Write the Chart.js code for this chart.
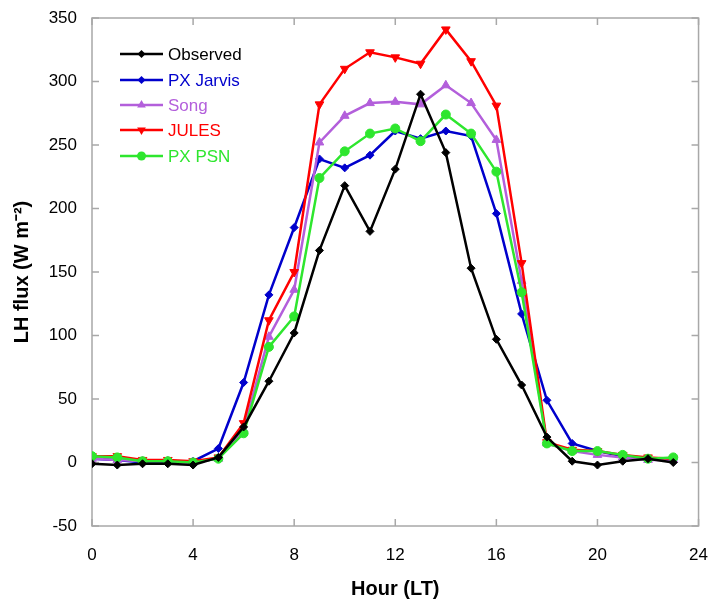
<!DOCTYPE html>
<html>
<head>
<meta charset="utf-8">
<script src="https://cdn.jsdelivr.net/npm/chart.js@4/dist/chart.umd.min.js"></script>
<style>
  body { margin: 0; background: #fff; }
</style>
</head>
<body>
<canvas id="lhChart" width="719" height="605"></canvas>
<script>
// x categories (hour of day)
const hours = [0, 1, 2, 3, 4, 5, 6, 7, 8, 9, 10, 11, 12, 13, 14, 15, 16, 17, 18, 19, 20, 21, 22, 23];

// series values (W m-2)
const observed = [-1, -2, -1, -1, -2, 4, 28, 64, 102, 167, 218, 182, 231, 290, 244, 153, 97, 61, 20, 1, -2, 1, 3, 0];
const pxJarvis = [3, 2, 0, 0, 1, 11, 63, 132, 185, 239, 232, 242, 261, 255, 261, 257, 196, 117, 49, 15, 9, 5, 3, 2];
const song = [3, 2, 1, 1, 0, 3, 26, 99, 136, 252, 273, 283, 284, 282, 297, 283, 254, 143, 15, 9, 6, 4, 2, 2];
const jules = [5, 5, 2, 2, 1, 4, 31, 112, 150, 282, 310, 323, 319, 314, 341, 316, 281, 157, 16, 10, 9, 6, 4, 3];
const pxPsn = [5, 4, 1, 1, 0, 3, 23, 91, 115, 224, 245, 259, 263, 253, 274, 259, 229, 134, 15, 9, 9, 6, 3, 4];

// tick labels
const xTicks = [0, 4, 8, 12, 16, 20, 24];
const yTicks = [-50, 0, 50, 100, 150, 200, 250, 300, 350];

const seriesNames = ["Observed", "PX Jarvis", "Song", "JULES", "PX PSN"];
const seriesColors = ["#000000", "#0000CC", "#B35FDB", "#FF0000", "#2EE62E"];
const seriesData = [observed, pxJarvis, song, jules, pxPsn];
const markerStyles = ["rectRot", "rectRot", "triangle", "triangle", "circle"];
const markerRot = [0, 0, 0, 180, 0];
const markerSize = [4, 4, 5, 5, 4.5];

const frameColor = "#A8A8A8";
const fontFam = "'Liberation Sans', Arial, sans-serif";

function toPoints(arr) {
  return arr.map((v, i) => ({ x: hours[i], y: v }));
}

const datasets = seriesData.map((arr, i) => ({
  label: seriesNames[i],
  data: toPoints(arr),
  borderColor: seriesColors[i],
  backgroundColor: seriesColors[i],
  borderWidth: 2.5,
  pointStyle: markerStyles[i],
  pointRotation: markerRot[i],
  pointRadius: markerSize[i],
  pointBorderWidth: 1,
  tension: 0,
  order: i === 0 ? 0 : 5 - i,
}));

// box around plot with inward tick marks
const frameTicks = {
  id: "frameTicks",
  beforeDatasetsDraw(chart) {
    const { ctx, chartArea: a, scales } = chart;
    const len = 7;
    ctx.save();
    ctx.strokeStyle = frameColor;
    ctx.lineWidth = 1.5;
    ctx.strokeRect(a.left, a.top, a.right - a.left, a.bottom - a.top);
    ctx.beginPath();
    xTicks.forEach((t) => {
      const px = scales.x.getPixelForValue(t);
      ctx.moveTo(px, a.bottom);
      ctx.lineTo(px, a.bottom - len);
      ctx.moveTo(px, a.top);
      ctx.lineTo(px, a.top + len);
    });
    yTicks.forEach((t) => {
      const py = scales.y.getPixelForValue(t);
      ctx.moveTo(a.left, py);
      ctx.lineTo(a.left + len, py);
      ctx.moveTo(a.right, py);
      ctx.lineTo(a.right - len, py);
    });
    ctx.stroke();
    ctx.restore();
  },
};

function drawMarker(ctx, style, rot, r, x, y) {
  ctx.beginPath();
  if (style === "circle") {
    ctx.arc(x, y, r, 0, Math.PI * 2);
  } else if (style === "rectRot") {
    ctx.moveTo(x, y - r);
    ctx.lineTo(x + r, y);
    ctx.lineTo(x, y + r);
    ctx.lineTo(x - r, y);
  } else {
    const s = rot === 180 ? -1 : 1;
    ctx.moveTo(x, y - s * r);
    ctx.lineTo(x + r * 0.87, y + s * r * 0.5);
    ctx.lineTo(x - r * 0.87, y + s * r * 0.5);
  }
  ctx.closePath();
  ctx.fill();
}

// legend inside plot, top left
const insideLegend = {
  id: "insideLegend",
  afterDraw(chart) {
    const { ctx } = chart;
    const rowY = [54, 80, 105, 130, 156];
    ctx.save();
    ctx.font = "17px " + fontFam;
    ctx.textBaseline = "middle";
    seriesNames.forEach((name, i) => {
      const y = rowY[i];
      ctx.strokeStyle = seriesColors[i];
      ctx.fillStyle = seriesColors[i];
      ctx.lineWidth = 2.5;
      ctx.beginPath();
      ctx.moveTo(120, y);
      ctx.lineTo(163, y);
      ctx.stroke();
      drawMarker(ctx, markerStyles[i], markerRot[i], markerSize[i], 141.5, y);
      ctx.fillText(name, 168, y + 1);
    });
    ctx.restore();
  },
};

new Chart("lhChart", {
  type: "line",
  data: { datasets: datasets },
  options: {
    responsive: false,
    animation: false,
    layout: { padding: { top: 18, right: 11, left: 0, bottom: 0 } },
    plugins: { legend: { display: false }, tooltip: { enabled: false } },
    scales: {
      x: {
        type: "linear",
        min: 0,
        max: 24,
        afterBuildTicks: (scale) => {
          scale.ticks = xTicks.map((v) => ({ value: v }));
        },
        afterFit: (scale) => {
          scale.height = 79;
        },
        grid: { display: false },
        border: { display: false },
        ticks: {
          color: "#000",
          padding: 11,
          maxRotation: 0,
          font: { family: fontFam, size: 17 },
        },
        title: {
          display: true,
          text: "Hour (LT)",
          color: "#000",
          padding: { bottom: 4 },
          font: { family: fontFam, size: 20, weight: "bold" },
        },
      },
      y: {
        min: -50,
        max: 350,
        afterBuildTicks: (scale) => {
          scale.ticks = yTicks.map((v) => ({ value: v }));
        },
        afterFit: (scale) => {
          scale.width = 92;
        },
        grid: { display: false },
        border: { display: false },
        ticks: {
          color: "#000",
          padding: 7,
          font: { family: fontFam, size: 17 },
        },
        title: {
          display: true,
          text: "LH flux (W m\u207B\u00B2)",
          color: "#000",
          padding: { top: 10 },
          font: { family: fontFam, size: 20, weight: "bold" },
        },
      },
    },
  },
  plugins: [frameTicks, insideLegend],
});
</script>
</body>
</html>
